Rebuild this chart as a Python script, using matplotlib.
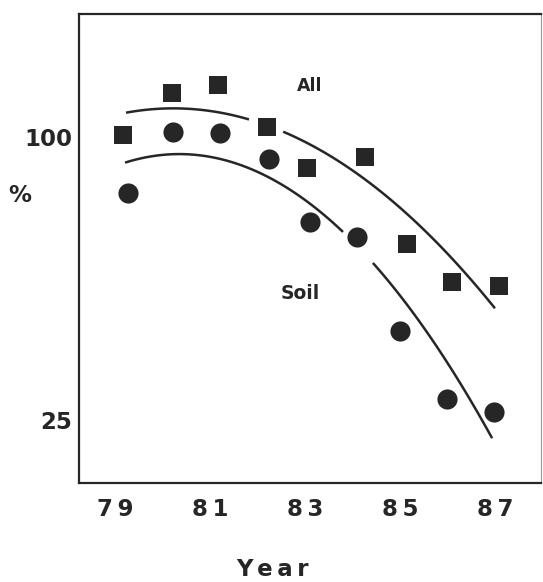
import numpy as np
import matplotlib
matplotlib.use("Agg")
from matplotlib import pyplot as plt

# data
years_all = [79.17, 80.2, 81.17, 82.2, 83.04, 84.26, 85.15, 86.09, 87.08]
pct_all = [100.5, 111.7, 113.8, 102.7, 91.8, 94.7, 71.6, 61.6, 60.5]

years_soil = [79.27, 80.22, 81.2, 82.24, 83.1, 84.1, 85.0, 86.0, 86.99]
pct_soil = [85.2, 101.3, 101.1, 94.2, 77.5, 73.5, 48.6, 30.6, 27.1]

# points along the hand drawn trend curves
curve_all_x = [79.23, 80.09, 81.82, 82.54, 84.58, 85.99, 87.0]
curve_all_y = [106.6, 107.7, 104.2, 101.1, 86.0, 70.1, 53.9]
curve_all_pieces = [(79.23, 81.82), (82.54, 87.0)]

curve_soil_x = [79.21, 80.22, 82.05, 83.8, 84.43, 85.63, 86.94]
curve_soil_y = [93.4, 95.5, 89.1, 75.9, 68.7, 44.3, 21.0]
curve_soil_pieces = [(79.21, 83.8), (84.43, 86.94)]

xticks = [79, 81, 83, 85, 87]
xticklabels = ["7\u20099", "8\u20091", "8\u20093", "8\u20095", "8\u20097"]
yticks = [25, 100]
yticklabels = ["25", "100"]

ink = "#262626"
plt.rcParams['font.family'] = ['DejaVu Sans']
plt.rcParams['font.weight'] = 'bold'

fig = plt.figure(figsize=(5.43, 5.82), dpi=100)
ax = fig.add_axes([79 / 543, 1 - 483 / 582, 462 / 543, 469 / 582])


def draw_curve(cx, cy, pieces):
    coef = np.polyfit(cx, cy, 2)
    for a, b in pieces:
        xs = np.linspace(a, b, 100)
        ax.plot(xs, np.polyval(coef, xs), color=ink, lw=1.8, solid_capstyle='butt')


draw_curve(curve_all_x, curve_all_y, curve_all_pieces)
draw_curve(curve_soil_x, curve_soil_y, curve_soil_pieces)

ax.plot(years_all, pct_all, 's', color=ink, markersize=13.5, markeredgewidth=0)
ax.plot(years_soil, pct_soil, 'o', color=ink, markersize=14.5, markeredgewidth=0)

ax.text(83.1, 113.5, "All", fontsize=12.5, fontweight='bold', color=ink,
        ha='center', va='center')
ax.text(82.9, 58.5, "Soil", fontsize=13.5, fontweight='bold', color=ink,
        ha='center', va='center')

ax.set_xlim(78.24, 87.97)
ax.set_ylim(8.3, 132.6)
ax.set_xticks(xticks)
ax.set_xticklabels(xticklabels, fontsize=16.5, fontweight='bold', color=ink)
ax.set_yticks(yticks)
ax.set_yticklabels(yticklabels, fontsize=16.5, fontweight='bold', color=ink)
ax.tick_params(axis='both', length=0)
ax.tick_params(axis='x', pad=11)
ax.tick_params(axis='y', pad=5)

for side in ['left', 'bottom', 'top']:
    ax.spines[side].set_linewidth(1.6)
    ax.spines[side].set_color(ink)
ax.spines['right'].set_linewidth(0.8)
ax.spines['right'].set_color('#9a9a9a')

ax.text(-0.128, 0.614, "%", transform=ax.transAxes, fontsize=16.5,
        fontweight='bold', color=ink, ha='center', va='center')
ax.text(0.418, -0.185, "Y\u2009e\u2009a\u2009r", transform=ax.transAxes,
        fontsize=16.5, fontweight='bold', color=ink, ha='center', va='center')

fig.savefig("out.png", dpi=100, facecolor='white')
